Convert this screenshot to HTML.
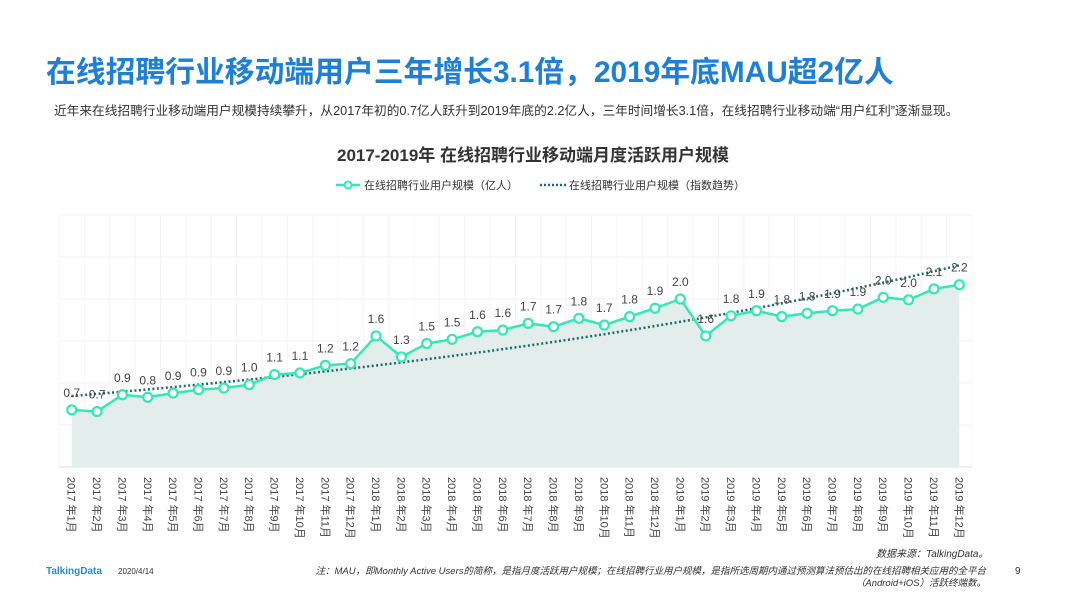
<!DOCTYPE html>
<html><head><meta charset="utf-8">
<style>
body{margin:0;width:1066px;height:599px;background:#fff;overflow:hidden;font-family:"Liberation Sans","Noto Sans CJK SC",sans-serif;position:relative}
.abs{position:absolute;white-space:nowrap}
</style></head><body>
<div class="abs" style="left:46px;top:47px;font-size:29.8px;font-weight:bold;color:#1d7fd8;">在线招聘行业移动端用户三年增长3.1倍，2019年底MAU超2亿人</div>
<div class="abs" style="left:54px;top:100px;font-size:12.7px;color:#333;">近年来在线招聘行业移动端用户规模持续攀升，从2017年初的0.7亿人跃升到2019年底的2.2亿人，三年时间增长3.1倍，在线招聘行业移动端“用户红利”逐渐显现。</div>
<svg id="chart" width="1066" height="599" style="position:absolute;left:0;top:0">
<text x="533" y="161" text-anchor="middle" font-size="17" font-weight="bold" fill="#333">2017-2019年  在线招聘行业移动端月度活跃用户规模</text>
<g>
<line x1="336" y1="185" x2="360" y2="185" stroke="#33e8b4" stroke-width="2.5"/>
<circle cx="348" cy="185" r="3.5" fill="#fff" stroke="#33e8b4" stroke-width="2"/>
<text x="364" y="189" font-size="11" fill="#333">在线招聘行业用户规模（亿人）</text>
<line x1="540" y1="185" x2="566" y2="185" stroke="#1b6b68" stroke-width="2.5" stroke-dasharray="2,2"/>
<text x="569" y="189" font-size="11" fill="#333">在线招聘行业用户规模（指数趋势）</text>
</g>
<g id="grid"></g><g id="marks"></g><g id="xlabels"></g>
</svg>
<div class="abs" style="left:876px;top:545px;font-size:10px;font-style:italic;color:#333;">数据来源：TalkingData。</div>
<div class="abs" style="left:46px;top:566px;font-size:10px;font-weight:bold;color:#1d8fe0;">TalkingData</div>
<div class="abs" style="left:118px;top:567px;font-size:8px;color:#333;">2020/4/14</div>
<div class="abs" style="right:80px;top:566px;font-size:9.5px;font-style:italic;color:#333;text-align:right;line-height:12px;">注：MAU，即Monthly Active Users的简称，是指月度活跃用户规模；在线招聘行业用户规模，是指所选周期内通过预测算法预估出的在线招聘相关应用的全平台<br>（Android+iOS）活跃终端数。</div>
<div class="abs" style="left:1015px;top:566px;font-size:10px;color:#333;">9</div>
<script>
const categories=[];
const years=[2017,2018,2019];
for(const yy of years)for(let m=1;m<=12;m++)categories.push(yy+" 年"+m+"月");
const values=[0.68,0.66,0.86,0.83,0.88,0.92,0.94,0.98,1.10,1.12,1.21,1.23,1.56,1.31,1.47,1.52,1.61,1.63,1.71,1.67,1.77,1.69,1.79,1.89,2.00,1.56,1.80,1.86,1.79,1.83,1.86,1.88,2.02,1.99,2.12,2.17];
const yTicks=[0,0.5,1,1.5,2,2.5,3];
const NS="http://www.w3.org/2000/svg";
const L=59,R=972,T=215,B=467,yMax=3;
const n=categories.length,step=(R-L)/n;
const X=i=>L+step*(i+0.5);
const Y=v=>B-(v/yMax)*(B-T);
function mk(tag,attrs,parent){const e=document.createElementNS(NS,tag);for(const k in attrs)e.setAttribute(k,attrs[k]);parent.appendChild(e);return e;}
const grid=document.getElementById('grid'),marks=document.getElementById('marks'),xl=document.getElementById('xlabels');
for(const t of yTicks){const ln=mk('line',{x1:L,x2:R,y1:Y(t),y2:Y(t),stroke:t===0?'#ddd':'#f0f0f0','stroke-width':1},grid);

}
for(let i=0;i<=n;i++){const ln=mk('line',{x1:L+step*i,x2:L+step*i,y1:T,y2:B,stroke:'#f4f4f4','stroke-width':1},grid);

}
let d="M"+X(0)+","+B;values.forEach((v,i)=>d+=" L"+X(i)+","+Y(v));d+=" L"+X(n-1)+","+B+"Z";
const area=mk('path',{d:d,fill:'#e3eeec'},marks);


let sx=0,sy=0,sxx=0,sxy=0;values.forEach((v,i)=>{const l=Math.log(v);sx+=i;sy+=l;sxx+=i*i;sxy+=i*l;});
const b=(n*sxy-sx*sy)/(n*sxx-sx*sx),a=(sy-b*sx)/n;
let td="";for(let i=0;i<n;i++)td+=(i?" L":"M")+X(i)+","+Y(Math.exp(a+b*i));
const trend=mk('path',{d:td,fill:'none',stroke:'#1b6b68','stroke-width':2.5,'stroke-dasharray':'2,2.5'},marks);


let ld="";values.forEach((v,i)=>ld+=(i?" L":"M")+X(i)+","+Y(v));
const line=mk('path',{d:ld,fill:'none',stroke:'#33e8b4','stroke-width':2.5},marks);


values.forEach((v,i)=>{
 const c=mk('circle',{cx:X(i),cy:Y(v),r:4.5,fill:'#fff',stroke:'#33e8b4','stroke-width':2.2},marks);
 
 
 const t=mk('text',{x:X(i),y:Y(v)-13,'text-anchor':'middle','font-size':12,fill:'#444'},marks);
 t.textContent=v.toFixed(1);
 
 
});
categories.forEach((c,i)=>{
 const t=mk('text',{x:0,y:0,'font-size':11,fill:'#444',transform:'translate('+(X(i)-4)+',477) rotate(90)'},xl);
 t.textContent=c;
 
 
});
</script>
</body></html>
